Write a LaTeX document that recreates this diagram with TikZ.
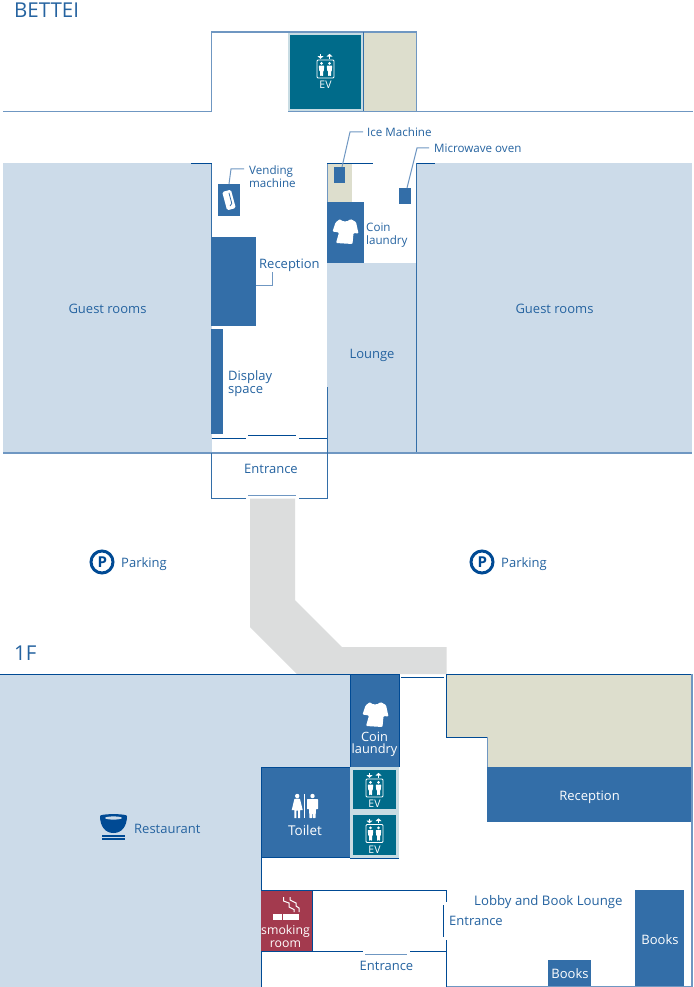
\documentclass[tikz,border=0pt]{standalone}
\usepackage{fontspec}
\setmainfont{Open Sans}
\definecolor{txt}{HTML}{2563A0}
\definecolor{dk}{HTML}{004A94}
\definecolor{wall}{HTML}{6F97C2}
\definecolor{mid}{HTML}{336EA8}
\definecolor{lite}{HTML}{CCDBE9}
\definecolor{khaki}{HTML}{DDDECD}
\definecolor{teal}{HTML}{006B8A}
\definecolor{evbg}{HTML}{C8DCE3}
\definecolor{road}{HTML}{DCDDDD}
\definecolor{smk}{HTML}{A33A4E}
\tikzset{
 lbl/.style={inner sep=0pt,yshift=-1pt,text=txt,font=\fontsize{13}{13}\selectfont,align=left},
 slbl/.style={lbl,font=\fontsize{11.6}{13}\selectfont},
 wlbl/.style={lbl,text=white,align=center},
 ttl/.style={inner sep=0pt,text=txt,font=\fontsize{20.5}{20}\selectfont,anchor=base west},
 wallline/.style={draw=wall,line width=1.1pt},
 dkline/.style={draw=dk,line width=1pt},
 leader/.style={draw=wall,line width=1pt},
 evicon/.pic={
  \draw[white,line width=.9pt,rounded corners=1pt] (-8.5,-9) rectangle (8.5,9);
  \foreach \q in {-4,4}{
   \fill[white] (\q,-5.6) circle (1.5);
   \fill[white,rounded corners=.5pt] (\q-2.8,-3.4) -- (\q+2.8,-3.4) -- (\q+2.2,2) -- (\q+1.5,2) -- (\q+1.5,7) -- (\q+.2,7) -- (\q+.2,2.5) -- (\q-.2,2.5) -- (\q-.2,7) -- (\q-1.5,7) -- (\q-1.5,2) -- (\q-2.2,2) -- cycle;
  }
  \draw[white,line width=.9pt] (-5,-15) -- (-5,-12);
  \fill[white] (-8,-12.8) -- (-2,-12.8) -- (-5,-10.2) -- cycle;
  \draw[white,line width=.9pt] (4,-10.2) -- (4,-13);
  \fill[white] (1,-12.4) -- (7,-12.4) -- (4,-15.2) -- cycle;
  \node[wlbl,font=\fontsize{10.5}{10}\selectfont,anchor=base] (-evtext) at (0,18.5) {EV};
 },
 shirt/.pic={
  \fill[white,rounded corners=1pt] (-5.5,-12.5) .. controls (-3,-9.5) and (2,-9.5) .. (5,-12.5) -- (10.5,-9.5) -- (13,2) -- (8,1.5) -- (7,12.5) -- (-9.5,11.5) -- (-6.5,1) -- (-13,0) -- (-10,-9) -- cycle;
 }
}
\begin{document}
\begin{tikzpicture}[x=1pt,y=-1pt]
\useasboundingbox (0,0) rectangle (693,987);
\fill[white] (0,0) rectangle (693,987);
% ---------- BETTEI
\node[ttl] (bettei) at (14,18) {BETTEI};
\fill[evbg] (288,32) rectangle (363,111.5);
\fill[teal] (290.3,35) rectangle (361,109);
\fill[khaki] (363,32) rectangle (416.5,111.5);
\path[wallline] (3,111.5) -- (211.5,111.5) -- (211.5,32) -- (416.5,32) -- (416.5,111.5);
\path[wallline] (288,111.5) -- (693,111.5);
\path[draw=mid,line width=1pt] (363,32) -- (363,111.5);
\pic at (325.5,69) {evicon};
% rooms
\fill[lite] (3,163.5) rectangle (211.5,453);
\fill[lite] (416.5,163.5) rectangle (692,453);
\fill[lite] (327,263) rectangle (416.5,453);
\fill[khaki] (327,163.5) rectangle (352,202);
\path[draw=mid,line width=1pt] (416.5,163.5) -- (416.5,453);
\path[draw=mid,line width=1pt] (211.5,163.5) -- (211.5,237);
\path[draw=wall,line width=.8pt] (327,163.5) -- (327,202);
\path[dkline] (191,163.5) -- (211.5,163.5);
\path[dkline] (327,163.5) -- (372.5,163.5);
\path[dkline] (416.5,163.5) -- (435,163.5);
\path[wallline] (3,453) -- (692,453);
% blue boxes
\fill[mid] (334,167) rectangle (345,183);
\fill[mid] (399,188) rectangle (411,204);
\fill[mid] (327,202) rectangle (363.5,263);
\fill[mid] (218,184) rectangle (240,216);
\fill[mid] (211,237) rectangle (256,325.5);
\fill[mid] (211,329) rectangle (222.5,433.5);
\pic at (345.5,231.5) {shirt};
\begin{scope}[shift={(229,200)},rotate=15]
 \fill[white,rounded corners=1.5pt] (-4.5,-9.5) rectangle (4.5,9.5);
 \draw[mid,line width=.8pt] (1.8,-7) -- (1.8,4) -- (-.5,6);
\end{scope}
% leaders
\path[leader] (244,169) -- (231,169) -- (229,184);
\path[leader] (363,132) -- (350,132) -- (342,167);
\path[leader] (429,148) -- (417,148) -- (407,188);
\path[leader] (272,272) -- (272,285) -- (256,285);
% entrance
\path[dkline] (211.5,438.5) -- (245.5,438.5);
\path[dkline] (299,438.5) -- (327,438.5);
\path[draw=dk,line width=.8pt] (248,435) -- (296,435);
\path[draw=mid,line width=1pt] (246,498) -- (211.5,498) -- (211.5,453);
\path[draw=mid,line width=1pt] (299,498) -- (327,498) -- (327,387);
\path[draw=wall,line width=1pt] (248,495) -- (296,495);
% labels
\node[lbl,anchor=center] (g1) at (107.5,307.5) {Guest rooms};
\node[lbl,anchor=center] (g2) at (554.5,307.5) {Guest rooms};
\node[lbl,anchor=center] (lounge) at (372,354) {Lounge};
\node[slbl,anchor=west] (vend) at (249,176) {Vending\\machine};
\node[slbl,anchor=base west] (ice) at (367,136) {Ice Machine};
\node[slbl,anchor=base west] (micro) at (434,152) {Microwave oven};
\node[slbl,anchor=west] (coin1) at (366,234) {Coin\\laundry};
\node[lbl,anchor=base west] (rec1) at (259,267.5) {Reception};
\node[lbl,anchor=west] (disp) at (228,383) {Display\\space};
\node[lbl,anchor=center] (ent1) at (271,468) {Entrance};
% parking
\draw[dk,line width=3pt] (102,562) circle (11);
\node[inner sep=0,text=dk,font=\bfseries\fontsize{15}{15}\selectfont] (p1) at (102.3,562) {P};
\node[lbl,anchor=base west] (park1) at (121,566) {Parking};
\draw[dk,line width=3pt] (482,562) circle (11);
\node[inner sep=0,text=dk,font=\bfseries\fontsize{15}{15}\selectfont] (p2) at (482.3,562) {P};
\node[lbl,anchor=base west] (park2) at (501,566) {Parking};
% walkway
\fill[road] (250,498.5) -- (295,498.5) -- (295,600) -- (342,647) -- (446.5,647) -- (446.5,674) -- (297,674) -- (250,627) -- cycle;
% ---------- 1F
\node[ttl] (onef) at (14,660.5) {1F};
\fill[lite] (0,674) -- (350,674) -- (350,767) -- (261,767) -- (261,987) -- (0,987) -- cycle;
\path[dkline] (0,674) -- (350,674);
\path[draw=dk,line width=1pt] (261,857) -- (261,987);
\fill[mid] (350,674) rectangle (399,767);
\fill[mid] (261,767) rectangle (350,857);
\path[draw=dk,line width=1pt] (350,857) -- (261,857) -- (261,767) -- (350,767) -- (350,674) -- (399,674);
\fill[evbg] (350,767) rectangle (399,858);
\fill[teal] (352.7,770) rectangle (396,809);
\fill[teal] (352.7,815) rectangle (396,855);
\path[draw=dk,line width=.8pt] (350,858) -- (399,858);
\path[draw=dk,line width=.6pt] (399,674) -- (399,767);
\pic at (374.5,788) {evicon};
\pic at (374.5,833.5) {evicon};
\pic at (375.5,714.5) {shirt};
\node[wlbl,anchor=center,font=\fontsize{12.8}{12.2}\selectfont] (coin2) at (374.5,743) {Coin\\laundry};
% toilet icon
\fill[white] (297.2,796) circle (2.2);
\fill[white] (297.2,798.5) -- (300,799) -- (302.7,810) -- (300,810) -- (300,818) -- (298,818) -- (298,810.5) -- (296.4,810.5) -- (296.4,818) -- (294.4,818) -- (294.4,810) -- (291.7,810) -- (294.4,799) -- cycle;
\draw[white,line width=.9pt] (304.7,794) -- (304.7,818);
\fill[white] (312.5,796) circle (2.2);
\fill[white,rounded corners=.5pt] (307,799) -- (318,799) -- (318,809) -- (316,809) -- (315.5,818) -- (313,818) -- (312.5,810) -- (312,818) -- (309.5,818) -- (309,809) -- (307,809) -- cycle;
\node[wlbl,anchor=center,font=\fontsize{13.5}{13}\selectfont] (toilet) at (305,829.5) {Toilet};
% right wing
\path[dkline] (401,677.5) -- (444,677.5);
\fill[khaki] (446.5,674) -- (692,674) -- (692,767) -- (487,767) -- (487,737) -- (446.5,737) -- cycle;
\path[draw=dk,line width=1pt] (692,674) -- (446.5,674) -- (446.5,737) -- (487,737);
\path[draw=wall,line width=1pt] (487,737) -- (487,767);
\fill[mid] (487,767) rectangle (692,822);
\path[draw=wall,line width=1.4pt] (692,674) -- (692,987);
\node[wlbl,anchor=center] (rec2) at (589.5,796.5) {Reception};
\fill[mid] (635,890) rectangle (684,986);
\fill[mid] (548,960) rectangle (591,986);
\node[wlbl,anchor=center] (books1) at (660,939) {Books};
\node[wlbl,anchor=center] (books2) at (570,972.5) {Books};
\path[draw=dk,line width=1pt] (446.5,940) -- (446.5,986.5);
\path[draw=wall,line width=1pt] (446.5,986.5) -- (692,986.5);
\path[draw=dk,line width=1pt] (312,890) -- (446.5,890) -- (446.5,902);
\path[draw=dk,line width=1pt] (443.5,905) -- (443.5,937);
\path[draw=dk,line width=1pt] (312,951) -- (362.5,951);
\path[draw=dk,line width=1pt] (410,951) -- (446.5,951);
\path[draw=wall,line width=1pt] (365,954) -- (407,954);
\node[lbl,anchor=base west,font=\fontsize{13.2}{13}\selectfont] (lobby) at (474,904.5) {Lobby and Book Lounge};
\node[lbl,anchor=base west] (ent2) at (449,924.5) {Entrance};
\node[lbl,anchor=center] (ent3) at (386.5,964.5) {Entrance};
% smoking
\fill[smk] (261,890) rectangle (312,951);
\path[draw=dk,line width=.8pt] (261,890) -- (312,890) -- (312,951) -- (261,951);
\fill[white] (272.7,914) rectangle (281.7,919.5);
\fill[white] (283.2,914) rectangle (299,919.5);
\draw[white,line width=1pt] (283.5,897) -- (283.5,901) -- (289,903) -- (289,907) -- (294,909.5) -- (294,912);
\draw[white,line width=1pt] (290,897) -- (290,900) -- (296,903) -- (296,906) -- (299,908) -- (299,912);
\node[wlbl,anchor=center,font=\fontsize{12.3}{12.3}\selectfont] (smoke) at (285.5,935.5) {smoking\\room};
% restaurant
\fill[dk] (100,816) .. controls (100,826) and (105,833) .. (113.5,833) .. controls (122,833) and (127,826) .. (127,816) .. controls (127,813.5) and (100,813.5) .. (100,816) -- cycle;
\fill[lite] (113.5,818) ellipse (8.5 and 1.6);
\fill[dk] (102,835) rectangle (125,836.8);
\fill[dk] (102,837.8) rectangle (125,839.5);
\node[lbl,anchor=base west] (rest) at (134,832) {Restaurant};
\end{tikzpicture}
\end{document}
